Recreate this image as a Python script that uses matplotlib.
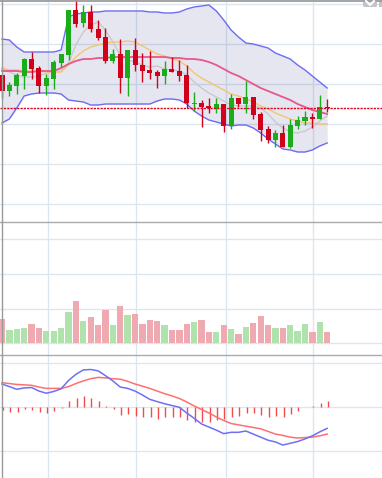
import matplotlib
matplotlib.use("Agg")
import matplotlib.pyplot as plt
import numpy as np
from matplotlib.lines import Line2D
from matplotlib.patches import FancyBboxPatch

# daily candles
opens = [10.09, 9.93, 9.98, 10.08, 10.25, 10.16, 9.98, 10.05, 10.21, 10.29,
         10.74, 10.61, 10.72, 10.55, 10.47, 10.23, 10.30, 10.06, 10.34, 10.19,
         10.14, 10.12, 10.08, 10.15, 10.13, 10.09, 9.80, 9.81, 9.78, 9.76,
         9.80, 9.58, 9.86, 9.80, 9.87, 9.70, 9.55, 9.44, 9.51, 9.37,
         9.58, 9.63, 9.67, 9.65, 9.77]
highs = [10.10, 10.02, 10.11, 10.26, 10.32, 10.18, 10.10, 10.24, 10.30, 10.74,
         10.87, 10.79, 10.79, 10.64, 10.56, 10.35, 10.45, 10.34, 10.46, 10.31,
         10.33, 10.14, 10.23, 10.27, 10.24, 10.19, 9.92, 9.84, 9.86, 9.86,
         9.80, 9.90, 9.86, 10.03, 9.87, 9.72, 9.58, 9.54, 9.59, 9.65,
         9.68, 9.73, 9.71, 9.89, 9.85]
lows = [9.86, 9.88, 9.90, 9.95, 10.05, 9.91, 9.89, 9.95, 10.17, 10.24,
        10.57, 10.57, 10.52, 10.44, 10.21, 10.21, 9.91, 9.88, 10.13, 10.02,
        10.05, 9.96, 10.00, 10.12, 10.03, 9.76, 9.73, 9.57, 9.71, 9.71,
        9.52, 9.55, 9.77, 9.71, 9.65, 9.43, 9.41, 9.37, 9.37, 9.36,
        9.55, 9.59, 9.56, 9.65, 9.72]
closes = [9.93, 9.99, 10.09, 10.25, 10.15, 9.98, 10.06, 10.22, 10.30, 10.74,
          10.60, 10.72, 10.55, 10.46, 10.23, 10.30, 10.06, 10.34, 10.19, 10.13,
          10.11, 10.08, 10.15, 10.12, 10.08, 9.81, 9.81, 9.77, 9.76, 9.80,
          9.58, 9.86, 9.80, 9.87, 9.69, 9.54, 9.44, 9.51, 9.37, 9.59,
          9.64, 9.67, 9.65, 9.77, 9.76]

# bollinger bands and moving averages
boll_up = [10.45, 10.44, 10.37, 10.32, 10.32, 10.32, 10.32, 10.32, 10.34, 10.67,
           10.70, 10.71, 10.72, 10.72, 10.73, 10.73, 10.73, 10.73, 10.73, 10.73,
           10.72, 10.72, 10.71, 10.71, 10.72, 10.75, 10.77, 10.78, 10.79, 10.73,
           10.64, 10.54, 10.47, 10.41, 10.40, 10.38, 10.36, 10.31, 10.28, 10.25,
           10.19, 10.14, 10.08, 10.02, 9.96]
boll_mid = [10.13, 10.13, 10.13, 10.12, 10.12, 10.13, 10.13, 10.13, 10.16, 10.20,
            10.23, 10.25, 10.25, 10.26, 10.26, 10.27, 10.27, 10.27, 10.27, 10.27,
            10.27, 10.27, 10.27, 10.26, 10.26, 10.25, 10.25, 10.24, 10.22, 10.19,
            10.15, 10.11, 10.08, 10.04, 10.00, 9.96, 9.93, 9.90, 9.87, 9.84,
            9.80, 9.77, 9.74, 9.72, 9.70]
boll_low = [9.61, 9.65, 9.76, 9.88, 9.90, 9.91, 9.91, 9.91, 9.90, 9.84,
            9.83, 9.82, 9.79, 9.79, 9.80, 9.80, 9.80, 9.80, 9.80, 9.80,
            9.80, 9.83, 9.85, 9.85, 9.84, 9.80, 9.73, 9.68, 9.64, 9.62,
            9.60, 9.58, 9.59, 9.59, 9.56, 9.51, 9.45, 9.40, 9.35, 9.34,
            9.32, 9.32, 9.34, 9.38, 9.41]
ma10 = [10.16, 10.14, 10.14, 10.13, 10.13, 10.13, 10.12, 10.12, 10.12, 10.19,
        10.27, 10.33, 10.37, 10.39, 10.41, 10.42, 10.42, 10.43, 10.42, 10.38,
        10.34, 10.30, 10.28, 10.25, 10.23, 10.18, 10.11, 10.06, 10.02, 9.98,
        9.94, 9.90, 9.88, 9.85, 9.82, 9.78, 9.75, 9.71, 9.68, 9.65,
        9.63, 9.61, 9.61, 9.60, 9.60]
ma5 = [10.15, 10.12, 10.09, 10.07, 10.07, 10.08, 10.11, 10.12, 10.13, 10.21,
       10.39, 10.52, 10.59, 10.62, 10.54, 10.42, 10.29, 10.24, 10.22, 10.19,
       10.17, 10.18, 10.15, 10.14, 10.13, 10.09, 10.02, 9.96, 9.91, 9.87,
       9.83, 9.79, 9.78, 9.78, 9.78, 9.76, 9.70, 9.62, 9.56, 9.52,
       9.51, 9.53, 9.57, 9.63, 9.68]

volumes = [14.0, 7.7, 8.2, 8.8, 11.1, 8.8, 7.1, 7.1, 8.8, 18.0,
           24.4, 12.9, 15.2, 10.5, 19.2, 10.5, 21.5, 16.3, 16.9, 11.1,
           13.4, 12.9, 10.5, 7.7, 7.7, 11.1, 12.3, 13.4, 6.5, 6.5,
           10.5, 8.2, 5.4, 9.4, 11.7, 15.7, 10.5, 8.8, 8.8, 10.5,
           7.1, 11.1, 6.5, 12.3, 6.5]

dif = [0.053, 0.047, 0.041, 0.044, 0.045, 0.037, 0.032, 0.036, 0.042, 0.061,
       0.075, 0.085, 0.086, 0.083, 0.072, 0.060, 0.046, 0.043, 0.037, 0.028,
       0.018, 0.013, 0.008, 0.004, 0.000, -0.013, -0.025, -0.038, -0.045, -0.052,
       -0.060, -0.057, -0.057, -0.054, -0.061, -0.068, -0.075, -0.079, -0.086, -0.082,
       -0.078, -0.072, -0.065, -0.056, -0.048]
dea = [0.056, 0.054, 0.052, 0.051, 0.050, 0.046, 0.043, 0.043, 0.043, 0.047,
       0.054, 0.060, 0.065, 0.068, 0.067, 0.065, 0.064, 0.059, 0.053, 0.048,
       0.043, 0.037, 0.031, 0.026, 0.020, 0.012, 0.003, -0.005, -0.013, -0.022,
       -0.030, -0.037, -0.040, -0.043, -0.046, -0.049, -0.055, -0.061, -0.064, -0.068,
       -0.070, -0.069, -0.068, -0.065, -0.061]
macd_hist = [-0.007, -0.010, -0.010, -0.005, -0.006, -0.010, -0.012, -0.008, -0.001, 0.014,
             0.022, 0.026, 0.022, 0.014, 0.003, -0.005, -0.018, -0.015, -0.020, -0.023,
             -0.023, -0.027, -0.023, -0.021, -0.021, -0.029, -0.033, -0.034, -0.033, -0.030,
             -0.027, -0.023, -0.019, -0.012, -0.012, -0.018, -0.021, -0.020, -0.021, -0.015,
             -0.008, 0.000, 0.003, 0.009, 0.014]

vgrid = [6.2, 18.2, 30.3, 42.1]

UP = "#1aad19"
DOWN = "#d0021b"
GRID = "#dce6ef"

W, H = 382, 478
fig = plt.figure(figsize=(W / 100, H / 100), dpi=100)

def panel(top, bottom):
    return fig.add_axes([0, (H - bottom) / H, 1, (bottom - top) / H])

ax = panel(0, 222)
axv = panel(222, 355)
axm = panel(355, 478)

x = np.arange(len(closes))
o = np.array(opens); c = np.array(closes)
up = c >= o

for a in (ax, axv, axm):
    a.set_xlim(-0.27, 51.42)
    for s in a.spines.values():
        s.set_visible(False)
    a.set_xticks([])
    a.set_yticks([])
    for g in vgrid:
        a.axvline(g, color=GRID, lw=1, zorder=0)

# price panel
ax.set_ylim(8.62, 10.84)
for p in [10.80, 10.40, 10.00, 9.60, 9.20, 8.80]:
    ax.axhline(p, color=GRID, lw=1, zorder=0)
ax.fill_between(x, boll_low, boll_up, color=(0.25, 0.25, 0.6, 0.13), lw=0, zorder=1)
ax.plot(x, boll_up, color="#6b6bf5", lw=1, zorder=2)
ax.plot(x, boll_low, color="#6b6bf5", lw=1, zorder=2)
ax.plot(x, ma5, color="#c9c9cc", lw=1, zorder=2)
ax.plot(x, ma10, color="#f6c46e", lw=1, zorder=2)
ax.plot(x, boll_mid, color="#e8578c", lw=1.3, zorder=2)

cols = [UP if u else DOWN for u in up]
ax.vlines(x, lows, highs, colors=cols, lw=1, zorder=3)
body = np.maximum(np.abs(c - o), 0.012)
ax.bar(x, body, bottom=np.minimum(o, c), width=0.68, color=cols, zorder=4)
ax.axhline(closes[-1], color="#e0001a", lw=1, ls=(0, (1.6, 0.8)), zorder=5)

# volume panel
axv.set_ylim(-6.74, 69.9)
for v in [0, 20, 40, 60]:
    axv.axhline(v, color=GRID, lw=1, zorder=0)
vcols = ["#b0e2ad" if u else "#eea9b1" for u in up]
axv.bar(x, volumes, width=0.85, color=vcols, zorder=2)

# macd panel
axm.set_ylim(-0.161, 0.119)
for v in [0.1, 0, -0.1]:
    axm.axhline(v, color=GRID, lw=1, zorder=0)
axm.vlines(x + 0.1, 0, macd_hist, colors="#f24b4b", lw=1, zorder=2)
axm.plot(x, dea, color="#ff6f6f", lw=1.1, zorder=3)
axm.plot(x, dif, color="#6f6ff5", lw=1.1, zorder=3)

# frame lines
fig.add_artist(Line2D([0, 1], [1 - 0.6 / H] * 2, color="#9c9c9c", lw=1.3))
for yy in (222, 355):
    fig.add_artist(Line2D([0, 1], [(H - yy) / H] * 2, color="#aaaaaa", lw=1))
fig.add_artist(Line2D([2.3 / W] * 2, [0, 1], color="#999999", lw=1))

# corner button
fig.add_artist(FancyBboxPatch((363 / W, (H - 7) / H), 14 / W, 8 / H,
                              boxstyle="round,pad=0,rounding_size=0.004",
                              transform=fig.transFigure, color="#c3c3c9", lw=0))
fig.add_artist(Line2D([366 / W, 370 / W, 374 / W], [(H - 1) / H, (H - 5) / H, (H - 1) / H],
                      color="white", lw=1.5))
fig.add_artist(FancyBboxPatch((379 / W, (H - 7) / H), 3 / W, 8 / H,
                              boxstyle="square,pad=0",
                              transform=fig.transFigure, color="#c3c3c9", lw=0))

fig.savefig("out.png", dpi=100)
